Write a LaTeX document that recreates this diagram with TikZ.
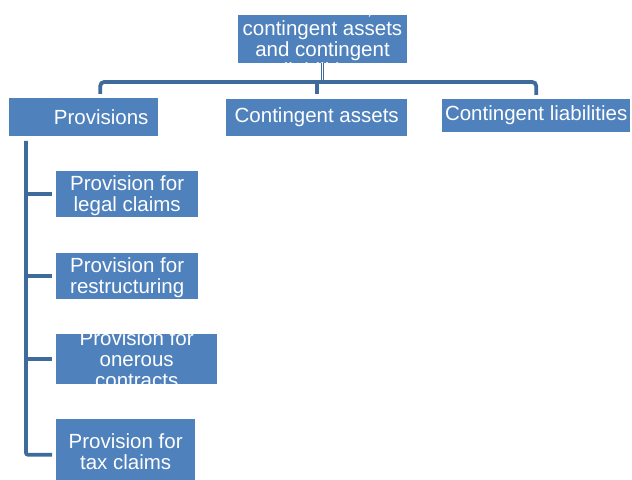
\documentclass[tikz,border=0pt]{standalone}
\usepackage{fontspec}
\setmainfont{Liberation Sans}
\definecolor{boxblue}{HTML}{4F81BD}
\definecolor{lineblue}{HTML}{3F6A9C}
\begin{document}
\begin{tikzpicture}[x=1bp,y=-1bp,
  boxshape/.style={fill=boxblue, draw=none, inner sep=0pt, anchor=north west},
  boxtext/.style={text=white, align=center, inner sep=0pt,
    font=\fontsize{20.5bp}{21bp}\selectfont},
  conn/.style={draw=lineblue, line width=3.8bp},
  thinlink/.style={draw=lineblue, line width=0.7bp, double=white, double distance=1.4bp}]
\useasboundingbox (0,0) rectangle (632,480);

% headline box (its text runs past the box and is cut at the edges)
\node[boxshape, minimum width=169bp, minimum height=48bp] (top) at (238,15) {};
\begin{scope}
  \clip (top.north west) rectangle (top.south east);
  \node[boxtext] (toptext) at (322.5,38.5) {Provisions,\\contingent assets\\and contingent\\liabilities};
\end{scope}

% second level
\node[boxshape, minimum width=149bp, minimum height=38bp] (prov) at (9,98) {};
\node[boxtext] (provtext) at ([xshift=17.5bp]prov.center) {Provisions};
\node[boxshape, minimum width=181bp, minimum height=37bp] (assets) at (226,99) {};
\node[boxtext] (assetstext) at (assets.center) {Contingent assets};
\node[boxshape, minimum width=188bp, minimum height=33bp] (liab) at (442,99) {};
\node[boxtext] (liabtext) at (liab.center) {Contingent liabilities};

% kinds of provisions
\node[boxshape, minimum width=142bp, minimum height=46bp] (legal) at (56,171) {};
\node[boxtext] (legaltext) at ([yshift=-1.5bp]legal.center) {Provision for\\legal claims};
\node[boxshape, minimum width=142bp, minimum height=46bp] (restr) at (56,253) {};
\node[boxtext] (restrtext) at ([yshift=-1.5bp]restr.center) {Provision for\\restructuring};
\node[boxshape, minimum width=161bp, minimum height=50bp] (oner) at (56,334) {};
\begin{scope}
  \clip (oner.north west) rectangle (oner.south east);
  \node[boxtext] (onertext) at ([yshift=0.5bp]oner.center) {Provision for\\onerous\\contracts};
\end{scope}
\node[boxshape, minimum width=139bp, minimum height=62bp] (tax) at (56,419) {};
\node[boxtext] (taxtext) at ([yshift=-1.5bp]tax.center) {Provision for\\tax claims};

% connectors
\coordinate (bar) at (322,82);
\coordinate (trunk) at (26,141);
\draw[thinlink] (top.south) -- ([yshift=2bp]top.south |- bar);
\draw[conn, rounded corners=4bp, shorten <=4bp, shorten >=4bp]
  ([xshift=16.5bp]prov.north) -- ([xshift=16.5bp]prov.north |- bar)
  -- (liab.north |- bar) -- (liab.north);
\draw[conn, shorten >=5bp] (assets.north |- bar) -- (assets.north);

\draw[conn, rounded corners=2bp, shorten >=4bp]
  (trunk) -- ([yshift=-4.5bp]trunk |- tax.west) -- ([yshift=-4.5bp]tax.west);
\draw[conn, shorten >=4bp] (trunk |- legal.west) -- (legal.west);
\draw[conn, shorten >=4bp] (trunk |- restr.west) -- (restr.west);
\draw[conn, shorten >=4bp] (trunk |- oner.west) -- (oner.west);
\end{tikzpicture}
\end{document}
